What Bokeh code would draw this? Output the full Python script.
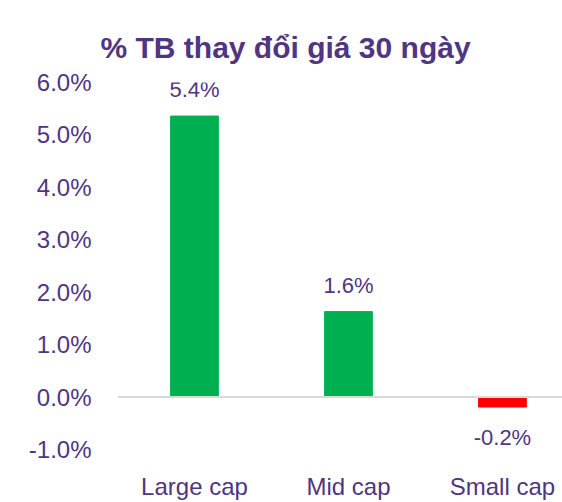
from bokeh.plotting import figure
from bokeh.models import Range1d, FixedTicker, PrintfTickFormatter, ColumnDataSource, Title, Span
from bokeh.embed import file_html
from bokeh.resources import INLINE
from bokeh.core.properties import value

categories = ["Large cap", "Mid cap", "Small cap"]
values = [5.36, 1.63, -0.19]
colors = ["#00B050", "#00B050", "#FF0000"]
y_ticks = [-1, 0, 1, 2, 3, 4, 5, 6]
title_text = "% TB thay đổi giá 30 ngày"

PURPLE = "#50357F"
FONT = "Liberation Sans"

xs = list(range(len(categories)))
labels = ["%.1f%%" % v for v in values]
offsets = [-14 if v >= 0 else 30 for v in values]
aligns = ["bottom" if v >= 0 else "middle" for v in values]
src = ColumnDataSource(dict(x=xs, top=values, color=colors, label=labels,
                            yoff=offsets, va=aligns))

p = figure(width=562, height=502, output_backend="svg", toolbar_location=None,
           x_range=Range1d(-0.5, 2.39), y_range=Range1d(-1, 6),
           min_border_left=117, min_border_right=0, min_border_top=82,
           min_border_bottom=51)
p.outline_line_color = None
p.grid.visible = False
p.background_fill_color = "white"
p.border_fill_color = "white"

t = Title(text=title_text, align="left", offset=-17, standoff=38,
          text_font=FONT, text_font_size="30px", text_font_style="bold",
          text_color=PURPLE)
p.add_layout(t, "above")

p.vbar(x="x", top="top", bottom=0, width=0.31, color="color", source=src)
zero = Span(location=0, dimension="width", line_color="#D9D9D9", line_width=2)
p.add_layout(zero)

p.text(x="x", y="top", text="label", y_offset="yoff", text_align="center",
       text_baseline="va", text_font=value(FONT), text_font_size="22px",
       text_color=PURPLE, source=src)

p.yaxis.ticker = FixedTicker(ticks=y_ticks)
p.yaxis.formatter = PrintfTickFormatter(format="%.1f%%")
p.yaxis.axis_line_color = None
p.yaxis.major_tick_line_color = None
p.yaxis.minor_tick_line_color = None
p.yaxis.major_label_standoff = 20
p.yaxis.major_label_text_font = FONT
p.yaxis.major_label_text_font_size = "24px"
p.yaxis.major_label_text_color = PURPLE

p.xaxis.ticker = FixedTicker(ticks=xs)
p.xaxis.major_label_overrides = {i: c for i, c in zip(xs, categories)}
p.xaxis.axis_line_color = None
p.xaxis.major_tick_line_color = None
p.xaxis.minor_tick_line_color = None
p.xaxis.major_label_standoff = 17
p.xaxis.major_label_text_font = FONT
p.xaxis.major_label_text_font_size = "24px"
p.xaxis.major_label_text_color = PURPLE

open("out.html", "w").write(file_html(p, INLINE))
